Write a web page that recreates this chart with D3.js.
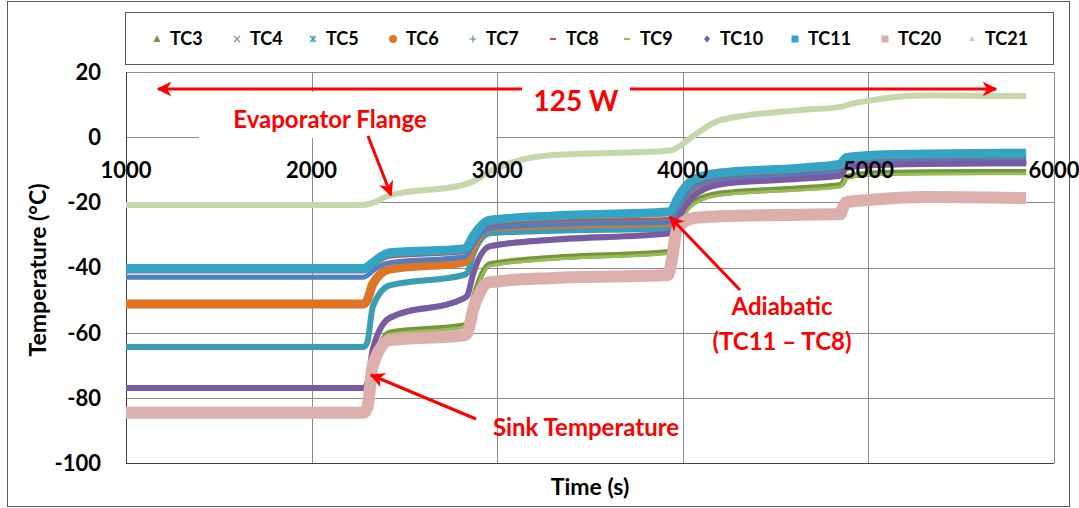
<!DOCTYPE html>
<html>
<head>
<meta charset="utf-8">
<script src="https://cdn.jsdelivr.net/npm/d3@7"></script>
<style>
  html, body { margin: 0; padding: 0; background: #fff; }
  svg { display: block; font-family: Lato, "Open Sans", sans-serif; }
</style>
</head>
<body>
<div id="chart"></div>
<script>
const times = [1000, 2280, 2300, 2330, 2420, 2820, 2840, 2870, 2960, 3300, 3920,
               3940, 3970, 4060, 4200, 4630, 4850, 4860, 4880, 5000, 5300, 5850];

const tc3  = [-85.2, -85.2, -84, -72, -60, -57.8, -57, -50, -39, -37, -35.2, -34.6, -28, -20, -17.3, -15.7, -14.7, -14.2, -12.2, -11.2, -10.8, -10.7];
const tc4  = [-76.5, -76.5, -75, -64.5, -55, -49, -48, -41.5, -33, -31, -29.2, -28.6, -25, -17.6, -14.2, -12.5, -11.5, -10.9, -9.2, -8.4, -8.0, -7.8];
const tc5  = [-64.4, -64.4, -63, -52, -45.5, -42.3, -41.5, -36, -29.5, -28.7, -28.0, -27.5, -24, -17, -14, -12.5, -11.6, -11, -9, -8.4, -8.1, -8.0];
const tc6  = [-51.2, -51.2, -50, -45, -40.5, -38.3, -37.5, -33.5, -27.8, -26.8, -26.0, -25.6, -22.5, -16, -12.8, -11.5, -10.7, -10, -8.2, -7.4, -7.0, -6.8];
const tc7  = [-43.0, -43.0, -42.4, -41, -38.5, -36.8, -36, -33, -28, -26.8, -26.0, -25.5, -22, -15.5, -12.8, -11.3, -10.3, -9.6, -8.3, -7.6, -7.2, -7.0];
const tc8  = [-41.5, -41.5, -41, -39.8, -37, -35.6, -34.8, -31.8, -27, -25.6, -24.8, -24.2, -20.5, -14.5, -12.3, -10.8, -9.6, -9, -7.6, -6.8, -6.4, -6.2];
const tc9  = [-85.6, -85.6, -84.5, -72.5, -60.5, -58.3, -57.5, -50.5, -39.5, -37.5, -35.7, -35.1, -28.5, -20.5, -17.8, -16.2, -15.2, -14.7, -12.7, -11.7, -11.3, -11.2];
const tc10 = [-77.0, -77.0, -75.5, -65, -55.5, -49.5, -48.5, -42, -33.5, -31.5, -29.6, -29, -25.5, -18, -14.5, -12.8, -11.8, -11.2, -9.5, -8.6, -8.2, -8.0];
const tc11 = [-40.3, -40.3, -39.8, -38.5, -35.5, -34.3, -33.5, -30.5, -25.5, -24.2, -23.0, -22.5, -19, -13, -11, -9.5, -8.3, -7.6, -6.3, -5.6, -5.2, -4.9];
const tc20 = [-84.6, -84.6, -83, -70, -62.3, -60.8, -60, -53, -44.5, -43.2, -42.3, -38, -28, -24.8, -24.3, -23.8, -23.6, -22, -20, -19.3, -18.4, -18.7];
const tc21 = [-20.8, -20.8, -20.6, -20.2, -17.8, -14.6, -14.2, -13.6, -10.5, -5.5, -4.2, -4.0, -3.2, 0.5, 5.2, 8.3, 9.3, 9.4, 9.8, 11.2, 12.8, 12.6];

const seriesNames = ["TC3", "TC4", "TC5", "TC6", "TC7", "TC8", "TC9", "TC10", "TC11", "TC20", "TC21"];
const seriesValues = [tc3, tc4, tc5, tc6, tc7, tc8, tc9, tc10, tc11, tc20, tc21];

const xTicks = [1000, 2000, 3000, 4000, 5000, 6000];
const yTicks = [20, 0, -20, -40, -60, -80, -100];

// drawing styles per series (same order as seriesNames)
const styles = [
    { color: "#71993a", width: 6, marker: "triangle" },
    { color: "#8a8aa6", width: 3, marker: "times" },
    { color: "#3a9db3", width: 6, marker: "asterisk" },
    { color: "#dc7626", width: 9, marker: "circle" },
    { color: "#4f7fc0", width: 5, marker: "plus" },
    { color: "#c0504d", width: 2, marker: "dash" },
    { color: "#9bbb59", width: 3, marker: "dash" },
    { color: "#7a5ba2", width: 6, marker: "diamond" },
    { color: "#35a3c4", width: 9, marker: "square" },
    { color: "#dcafad", width: 12, marker: "square" },
    { color: "#c6d7ac", width: 6, marker: "small" }
];

const W = 1079, H = 508;
const plot = { left: 126, top: 72, right: 1054, bottom: 463 };

const svg = d3.select("#chart").append("svg")
    .attr("width", W)
    .attr("height", H);

// outer frame
svg.append("rect")
    .attr("x", 7.5).attr("y", 1.5)
    .attr("width", 1062).attr("height", 505)
    .attr("fill", "#fff")
    .attr("stroke", "#5a5a5a");

const x = d3.scaleLinear().domain([1000, 6000]).range([plot.left, plot.right]);
const y = d3.scaleLinear().domain([-100, 20]).range([plot.bottom, plot.top]);

// gridlines
svg.append("g")
    .selectAll("line")
    .data(yTicks)
    .enter()
    .append("line")
    .attr("x1", plot.left).attr("x2", plot.right)
    .attr("y1", d => Math.round(y(d)) + 0.5).attr("y2", d => Math.round(y(d)) + 0.5)
    .attr("stroke", "#8c8c8c").attr("stroke-width", 1);

svg.append("g")
    .selectAll("line")
    .data(xTicks)
    .enter()
    .append("line")
    .attr("x1", d => Math.round(x(d)) + 0.5).attr("x2", d => Math.round(x(d)) + 0.5)
    .attr("y1", plot.top).attr("y2", plot.bottom)
    .attr("stroke", "#8c8c8c").attr("stroke-width", 1);

// axis lines
svg.append("line")
    .attr("x1", plot.left + 0.5).attr("x2", plot.left + 0.5)
    .attr("y1", plot.top).attr("y2", plot.bottom)
    .attr("stroke", "#404040");
svg.append("line")
    .attr("x1", plot.left).attr("x2", plot.right)
    .attr("y1", plot.bottom + 0.5).attr("y2", plot.bottom + 0.5)
    .attr("stroke", "#404040");

// white boxes of the text annotations sit over the gridlines
const boxes = svg.append("g");
boxes.append("rect").attr("x", 199).attr("y", 92).attr("width", 297).attr("height", 46).attr("fill", "#fff");
boxes.append("rect").attr("x", 522).attr("y", 80).attr("width", 108).attr("height", 36).attr("fill", "#fff");
boxes.append("rect").attr("x", 724).attr("y", 290).attr("width", 116).attr("height", 66).attr("fill", "#fff");

// series
svg.append("defs").append("clipPath").attr("id", "clip")
    .append("rect")
    .attr("x", plot.left).attr("y", plot.top)
    .attr("width", plot.right - plot.left).attr("height", plot.bottom - plot.top);

const line = d3.line()
    .x(d => x(d[0]))
    .y(d => y(d[1]))
    .curve(d3.curveMonotoneX);

const seriesG = svg.append("g").attr("clip-path", "url(#clip)");
seriesNames.forEach((name, i) => {
    const pts = times.map((t, j) => [t, seriesValues[i][j]]);
    const st = styles[i];
    seriesG.append("path")
        .attr("d", line(pts))
        .attr("fill", "none")
        .attr("stroke", st.color)
        .attr("stroke-width", st.width)
        .attr("stroke-linejoin", "round")
        .attr("stroke-linecap", "butt");
});

// tick labels
svg.append("g")
    .selectAll("text")
    .data(yTicks)
    .enter()
    .append("text")
    .attr("x", 101)
    .attr("y", d => y(d))
    .attr("dy", "0.36em")
    .attr("text-anchor", "end")
    .attr("font-size", 22)
    .attr("font-weight", "bold")
    .text(d => d);

svg.append("g")
    .selectAll("text")
    .data(xTicks)
    .enter()
    .append("text")
    .attr("x", d => x(d))
    .attr("y", 170)
    .attr("dy", "0.36em")
    .attr("text-anchor", "middle")
    .attr("font-size", 22)
    .attr("font-weight", "bold")
    .text(d => d);

// axis titles
svg.append("text")
    .attr("transform", "translate(38,270) rotate(-90)")
    .attr("dy", "0.36em")
    .attr("text-anchor", "middle")
    .attr("font-size", 23)
    .attr("font-weight", "bold")
    .text("Temperature (°C)");

svg.append("text")
    .attr("x", 590).attr("y", 487)
    .attr("dy", "0.36em")
    .attr("text-anchor", "middle")
    .attr("font-size", 23)
    .attr("font-weight", "bold")
    .text("Time (s)");

// legend
const legend = svg.append("g");
legend.append("rect")
    .attr("x", 125.5).attr("y", 12.5)
    .attr("width", 928).attr("height", 52)
    .attr("fill", "#fff").attr("stroke", "#5a5a5a");

const legendMarkX = [157, 237, 313, 393, 473, 553, 627, 707, 795, 885, 972];
const legendY = 39;

function drawMarker(g, type, cx, cy, color) {
    if (type === "triangle") {
        g.append("path").attr("d", `M${cx},${cy - 4}L${cx + 3.5},${cy + 3}L${cx - 3.5},${cy + 3}Z`).attr("fill", color);
    } else if (type === "times") {
        g.append("path").attr("d", `M${cx - 3},${cy - 3}L${cx + 3},${cy + 3}M${cx + 3},${cy - 3}L${cx - 3},${cy + 3}`)
            .attr("stroke", color).attr("stroke-width", 1.2);
    } else if (type === "asterisk") {
        g.append("path").attr("d", `M${cx - 3},${cy - 3}L${cx + 3},${cy + 3}M${cx + 3},${cy - 3}L${cx - 3},${cy + 3}M${cx},${cy - 3.5}L${cx},${cy + 3.5}`)
            .attr("stroke", color).attr("stroke-width", 1.1);
    } else if (type === "circle") {
        g.append("circle").attr("cx", cx).attr("cy", cy).attr("r", 4).attr("fill", color);
    } else if (type === "plus") {
        g.append("path").attr("d", `M${cx - 3.5},${cy}L${cx + 3.5},${cy}M${cx},${cy - 3.5}L${cx},${cy + 3.5}`)
            .attr("stroke", color).attr("stroke-width", 1.1);
    } else if (type === "dash") {
        g.append("rect").attr("x", cx - 3).attr("y", cy - 1).attr("width", 6).attr("height", 2).attr("fill", color);
    } else if (type === "diamond") {
        g.append("path").attr("d", `M${cx},${cy - 3.5}L${cx + 3},${cy}L${cx},${cy + 3.5}L${cx - 3},${cy}Z`).attr("fill", color);
    } else if (type === "square") {
        g.append("rect").attr("x", cx - 3.5).attr("y", cy - 3.5).attr("width", 7).attr("height", 7).attr("fill", color);
    } else {
        g.append("path").attr("d", `M${cx},${cy - 3}L${cx + 3},${cy + 2}L${cx - 3},${cy + 2}Z`).attr("fill", color);
    }
}

seriesNames.forEach((name, i) => {
    drawMarker(legend, styles[i].marker, legendMarkX[i], legendY, styles[i].color);
    legend.append("text")
        .attr("x", legendMarkX[i] + 13)
        .attr("y", legendY)
        .attr("dy", "0.36em")
        .attr("font-size", 18)
        .attr("font-weight", "bold")
        .text(name);
});

// annotations
const red = "#ff0000";
const ann = svg.append("g");

ann.append("defs").append("marker")
    .attr("id", "head")
    .attr("viewBox", "0 0 10 10")
    .attr("refX", 9).attr("refY", 5)
    .attr("markerWidth", 5).attr("markerHeight", 5)
    .attr("orient", "auto-start-reverse")
    .append("path")
    .attr("d", "M0,0L10,5L0,10L3,5Z")
    .attr("fill", red);

// 125 W double arrow, split round the label
ann.append("line")
    .attr("x1", 522).attr("y1", 89).attr("x2", 158).attr("y2", 89)
    .attr("stroke", red).attr("stroke-width", 3)
    .attr("marker-end", "url(#head)");
ann.append("line")
    .attr("x1", 630).attr("y1", 89).attr("x2", 996).attr("y2", 89)
    .attr("stroke", red).attr("stroke-width", 3)
    .attr("marker-end", "url(#head)");

ann.append("text")
    .attr("x", 576).attr("y", 101)
    .attr("dy", "0.36em")
    .attr("text-anchor", "middle")
    .attr("font-size", 28)
    .attr("font-weight", "bold")
    .attr("fill", red)
    .text("125 W");

const annotations = [
    { text: "Evaporator Flange", x: 330, y: 119 },
    { text: "Adiabatic", x: 782, y: 306 },
    { text: "(TC11 – TC8)", x: 782, y: 341 },
    { text: "Sink Temperature", x: 586, y: 427 }
];
ann.selectAll("text.note")
    .data(annotations)
    .enter()
    .append("text")
    .attr("class", "note")
    .attr("x", d => d.x).attr("y", d => d.y)
    .attr("dy", "0.36em")
    .attr("text-anchor", "middle")
    .attr("font-size", 24)
    .attr("font-weight", "bold")
    .attr("fill", red)
    .text(d => d.text);

ann.append("line")
    .attr("x1", 368).attr("y1", 136).attr("x2", 391).attr("y2", 195)
    .attr("stroke", red).attr("stroke-width", 3)
    .attr("marker-end", "url(#head)");
ann.append("line")
    .attr("x1", 740).attr("y1", 290).attr("x2", 670).attr("y2", 217)
    .attr("stroke", red).attr("stroke-width", 3)
    .attr("marker-end", "url(#head)");
ann.append("line")
    .attr("x1", 476).attr("y1", 419).attr("x2", 371).attr("y2", 375)
    .attr("stroke", red).attr("stroke-width", 3)
    .attr("marker-end", "url(#head)");
</script>
</body>
</html>
